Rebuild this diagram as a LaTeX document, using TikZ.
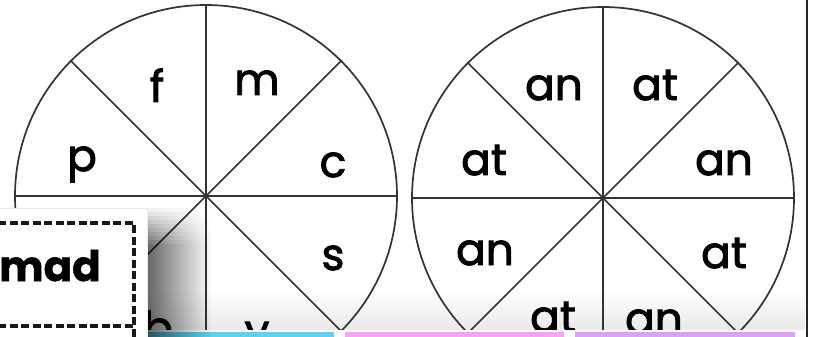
\documentclass[tikz,border=0pt]{standalone}
\usepackage{fontspec}
\setmainfont{Poppins}
\newfontfamily\wheelfont{Poppins}[FakeBold=2]
\newfontfamily\cardfont{Poppins}[FakeBold=1.2]
\usetikzlibrary{fadings}
\tikzfading[name=shfade, left color=transparent!40, right color=transparent!100]
\definecolor{barcyan}{HTML}{5CD2EE}
\definecolor{barpink}{HTML}{F7A2F2}
\definecolor{barlav}{HTML}{D8A2F6}
\tikzset{
  wheel/.style={circle, draw=black!80, line width=1.7pt, minimum size=382pt, inner sep=0pt},
  spoke/.style={draw=black!80, line width=1.7pt},
  lt/.style={font=\wheelfont\fontsize{44}{44}\selectfont, inner sep=0pt, anchor=base, text=black},
  cutline/.style={draw=black!90, line width=3.2pt, dash pattern=on 8pt off 3.5pt},
}
\begin{document}
\begin{tikzpicture}[x=1pt,y=-1pt]
\useasboundingbox (0,0) rectangle (815,337);
\clip (0,0) rectangle (815,337);
\fill[white] (0,0) rectangle (815,337);
\shade[top color=white, bottom color=black!9] (147,290) rectangle (805,331);
% wheels
\node[wheel] (wL) at (206,196) {};
\node[wheel] (wR) at (603,198) {};
\foreach \w in {wL,wR}{
  \draw[spoke] (\w.north) -- (\w.south);
  \draw[spoke] (\w.west) -- (\w.east);
  \draw[spoke] (\w.north west) -- (\w.south east);
  \draw[spoke] (\w.north east) -- (\w.south west);
}
% left wheel letters
\node[lt] (lf) at (157,102) {f};
\node[lt] (lm) at (257,95) {m};
\node[lt] (lp) at (82,171) {p};
\node[lt] (lc) at (333,177) {c};
\node[lt] (ls) at (333,270) {s};
\node[lt] (lb) at (158,343) {b};
\node[lt] (ly) at (257,346) {y};
% right wheel letters
\node[lt] (r1) at (554,100) {an};
\node[lt] (r2) at (655,100) {at};
\node[lt] (r3) at (484,175) {at};
\node[lt] (r4) at (724,175) {an};
\node[lt] (r5) at (485,265) {an};
\node[lt] (r6) at (724,268) {at};
\node[lt] (r7) at (553,332) {at};
\node[lt] (r8) at (654,334) {an};
% bottom panel and tabs
\fill[white] (147,330) rectangle (805,337);
\fill[barcyan] (147,332) rectangle (334,337);
\fill[barpink] (345,332) rectangle (564,337);
\fill[barlav] (575,332) rectangle (795,337);
% right border
\draw[line width=2.8pt, black!85] (807,-2) -- (807,340);
% card shadow
\foreach \i in {1,...,9}{
  \fill[black, fill opacity=\i/10, path fading=shfade] (147,204+4*\i) rectangle (212,208+4*\i);
}
\fill[black, path fading=shfade] (147,244) rectangle (212,340);
% card
\fill[white, draw=black!8, line width=0.5pt] (-3,208) rectangle (147,340);
\draw[cutline] (-2,223) -- (134,223) -- (134,340);
\draw[cutline] (-2,326) -- (134,326);
\node[font=\cardfont\fontsize{42}{42}\selectfont\bfseries, anchor=base west, inner sep=0pt] (mad) at (-1,281) {mad};
\end{tikzpicture}
\end{document}
